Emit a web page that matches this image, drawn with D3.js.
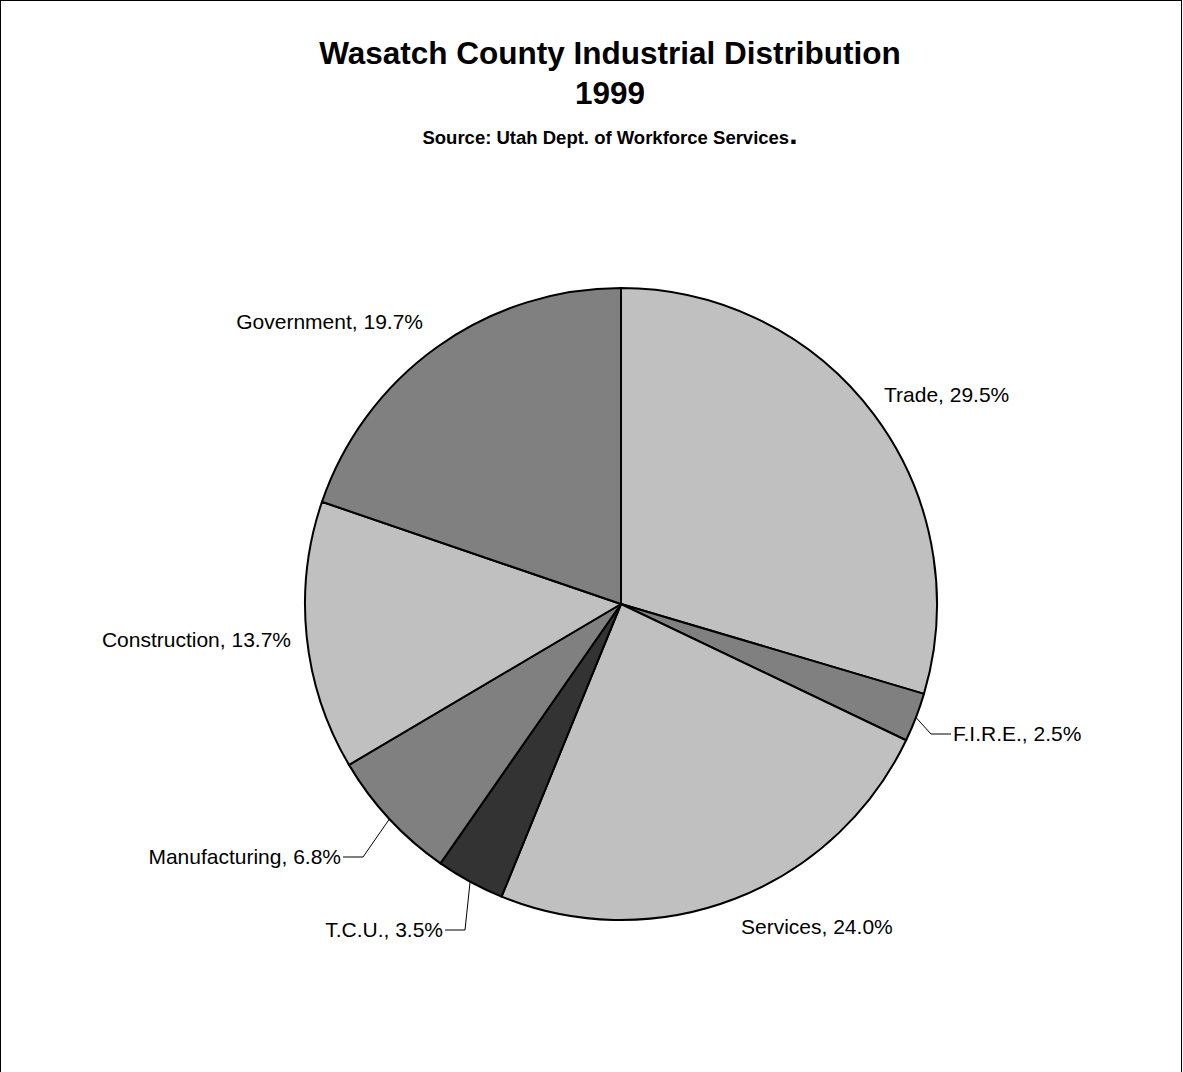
<!DOCTYPE html>
<html><head><meta charset="utf-8">
<script src="https://cdn.jsdelivr.net/npm/d3@7"></script>
<style>body{margin:0;background:#fff}text{font-family:"Liberation Sans",Arial,sans-serif}</style>
</head><body><svg id="chart" width="1183" height="1072"></svg>
<script>
var categories = ["Trade", "F.I.R.E.", "Services", "T.C.U.", "Manufacturing", "Construction", "Government"];
var values = [29.5, 2.5, 24.0, 3.5, 6.8, 13.7, 19.7];
var fills = ["#c0c0c0", "#808080", "#c0c0c0", "#333333", "#808080", "#c0c0c0", "#808080"];
// label placement (text anchor point) and whether a leader line is drawn
var labelPos = [[884, 402, "start"], [953, 741, "start"], [741, 934, "start"], [443, 937, "end"], [341, 864, "end"], [291, 647, "end"], [423, 329, "end"]];
var leaders = [false, true, false, true, true, false, false];

var svg = d3.select("#chart");
svg.append("rect").attr("x", 0.5).attr("y", 0.5).attr("width", 1181).attr("height", 1075)
	.style("fill", "none").style("stroke", "#000");

svg.append("text").attr("x", 610).attr("y", 64).attr("text-anchor", "middle")
	.style("font-size", "31.5px").style("font-weight", "bold").text("Wasatch County Industrial Distribution");
svg.append("text").attr("x", 610).attr("y", 104).attr("text-anchor", "middle")
	.style("font-size", "31.5px").style("font-weight", "bold").text("1999");
var sub = svg.append("text").attr("x", 610).attr("y", 144).attr("text-anchor", "middle")
	.style("font-size", "18.5px").style("font-weight", "bold");
sub.append("tspan").text("Source: Utah Dept. of Workforce Services");
sub.append("tspan").style("font-size", "30px").text(".");

var cx = 621, cy = 604, R = 316;
var pie = d3.pie().sort(null).value(function(d) { return d; });
var arcs = pie(values);
var arc = d3.arc().innerRadius(0).outerRadius(R);
var g = svg.append("g").attr("transform", "translate(" + cx + "," + cy + ")");

g.selectAll("path").data(arcs).enter().append("path")
	.attr("d", arc)
	.style("fill", function(d, i) { return fills[i]; })
	.style("stroke", "#000").style("stroke-width", 2);

arcs.forEach(function(d, i) {
	var p = labelPos[i];
	if (leaders[i]) {
		var a = (d.startAngle + d.endAngle) / 2;
		var x0 = cx + R * Math.sin(a), y0 = cy - R * Math.cos(a);
		var ty = p[1] - 7;
		var xe = p[2] === "start" ? p[0] - 2 : p[0] + 2;
		var xm = p[2] === "start" ? xe - 20 : xe + 20;
		svg.append("polyline")
			.attr("points", [[x0, y0], [xm, ty], [xe, ty]].map(function(q) { return q.join(","); }).join(" "))
			.style("fill", "none").style("stroke", "#000").style("stroke-width", 1);
	}
	svg.append("text").attr("x", p[0]).attr("y", p[1]).attr("text-anchor", p[2])
		.style("font-size", "21px").text(categories[i] + ", " + values[i].toFixed(1) + "%");
});
</script></body></html>
